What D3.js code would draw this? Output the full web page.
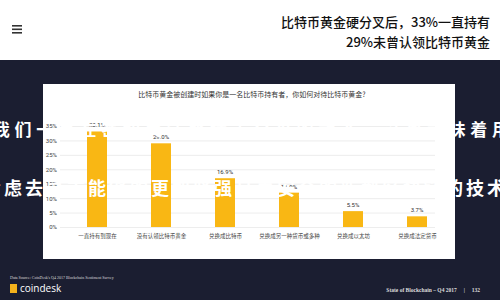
<!DOCTYPE html>
<html>
<head>
<meta charset="utf-8">
<script src="https://cdn.jsdelivr.net/npm/d3@7"></script>
<style>
  body { margin: 0; background: #1b1e31; }
  svg { display: block; font-family: "Noto Sans CJK SC", "Noto Sans", sans-serif; }
</style>
</head>
<body>
<script>
const categories = ['一直持有到现在', '没有认领比特币黄金', '兑换成比特币', '兑换成另一种货币或多种', '兑换成以太坊', '兑换成法定货币'];
const values = [33.1, 29.0, 16.9, 11.9, 5.5, 3.7];
const yTicks = [0, 5, 10, 15, 20, 25, 30, 35];
const headline = ['比特币黄金硬分叉后，33%一直持有', '29%未曾认领比特币黄金'];
const chartTitle = '比特币黄金被创建时如果你是一名比特币持有者，你如何对待比特币黄金?';
const overlay1 = '我们一直在密切关注比特币分叉的动态，这也意味着用';
const overlay2 = '考虑去寻求能够的更加坚强且更安全的新型区块链的技术';

const width = 500;
const height = 300;

const svg = d3.select('body')
    .append('svg')
    .attr('width', width)
    .attr('height', height);

// header
svg.append('rect')
    .attr('width', width)
    .attr('height', 60)
    .attr('fill', '#ffffff');

svg.append('g')
    .selectAll('rect')
    .data([0, 1, 2])
    .enter()
        .append('rect')
        .attr('x', 12)
        .attr('y', (d) => 25 + d * 3.5)
        .attr('width', 10)
        .attr('height', 1.6)
        .attr('fill', '#333');

svg.append('g')
    .selectAll('text')
    .data(headline)
    .enter()
        .append('text')
        .attr('x', 490)
        .attr('y', (d, i) => 27 + i * 20)
        .attr('text-anchor', 'end')
        .attr('font-size', 13)
        .attr('font-weight', 500)
        .attr('fill', '#111')
        .text((d) => d);

// white panel
svg.append('rect')
    .attr('x', 43)
    .attr('y', 84)
    .attr('width', 412)
    .attr('height', 175)
    .attr('fill', '#ffffff');

svg.append('text')
    .attr('x', 252)
    .attr('y', 97)
    .attr('text-anchor', 'middle')
    .attr('font-size', 7)
    .attr('fill', '#333')
    .text(chartTitle);

const x = d3.scalePoint()
    .domain(categories)
    .range([65, 449])
    .padding(0.5);

const y = d3.scaleLinear()
    .domain([0, 35])
    .range([227, 126]);

const yAxis = d3.axisLeft(y)
    .tickValues(yTicks)
    .tickFormat((d) => d + '%')
    .tickSizeInner(-375)
    .tickSizeOuter(0)
    .tickPadding(3);

const gy = svg.append('g')
    .attr('transform', 'translate(60, 0)')
    .call(yAxis);
gy.select('.domain').remove();
gy.selectAll('line').attr('stroke', '#e8e8e8').attr('stroke-width', 0.8);
gy.selectAll('text').attr('font-size', 6).attr('fill', '#444').style('font-family', 'Roboto, sans-serif');

const xAxis = d3.axisBottom(x)
    .tickSize(0)
    .tickPadding(7);

const gx = svg.append('g')
    .attr('transform', 'translate(0, 227)')
    .call(xAxis);
gx.select('.domain').remove();
gx.selectAll('text').attr('font-size', 5.5).attr('fill', '#444').style('font-family', '"Noto Sans CJK SC", sans-serif');

const barWidth = 20;

svg.append('g')
    .selectAll('rect')
    .data(values)
    .enter()
        .append('rect')
        .attr('x', (d, i) => x(categories[i]) - barWidth / 2)
        .attr('y', (d) => y(d))
        .attr('width', barWidth)
        .attr('height', (d) => y(0) - y(d))
        .attr('fill', '#f9b714');

svg.append('g')
    .selectAll('text')
    .data(values)
    .enter()
        .append('text')
        .attr('x', (d, i) => x(categories[i]))
        .attr('y', (d) => y(d) - 4)
        .attr('text-anchor', 'middle')
        .attr('font-size', 6)
        .attr('fill', '#333')
        .style('font-family', 'Roboto, sans-serif')
        .text((d) => d.toFixed(1) + '%');

// big white overlay text
const overlays = [
    { text: overlay1, x0: 1.3, pitch: 21.7, y: 136, size: 17 },
    { text: overlay2, x0: -8, pitch: 21, y: 195, size: 18 }
];

overlays.forEach((row) => {
    svg.append('g')
        .selectAll('text')
        .data(Array.from(row.text))
        .enter()
            .append('text')
            .attr('x', (d, i) => row.x0 + i * row.pitch)
            .attr('y', row.y)
            .attr('text-anchor', 'middle')
            .attr('font-size', row.size)
            .attr('font-weight', 'bold')
            .attr('fill', '#ffffff')
            .text((d) => d);
});

// footer
svg.append('text')
    .attr('x', 10)
    .attr('y', 279)
    .attr('font-size', 4)
    .attr('fill', '#ddd')
    .style('font-family', '"Liberation Serif", serif')
    .text("Data Source: CoinDesk's Q4 2017 Blockchain Sentiment Survey");

svg.append('rect')
    .attr('x', 10)
    .attr('y', 284)
    .attr('width', 7)
    .attr('height', 9)
    .attr('fill', '#f4b21c');

svg.append('text')
    .attr('x', 20)
    .attr('y', 292)
    .attr('font-size', 10)
    .attr('fill', '#ffffff')
    .style('font-family', '"Open Sans", sans-serif')
    .text('coindesk');

svg.append('text')
    .attr('x', 480)
    .attr('y', 292)
    .attr('text-anchor', 'end')
    .attr('font-size', 5.5)
    .attr('font-weight', 'bold')
    .attr('fill', '#ddd')
    .style('font-family', '"Liberation Serif", serif')
    .attr('xml:space', 'preserve')
    .text('State of Blockchain – Q4 2017     |     132');
</script>
</body>
</html>
